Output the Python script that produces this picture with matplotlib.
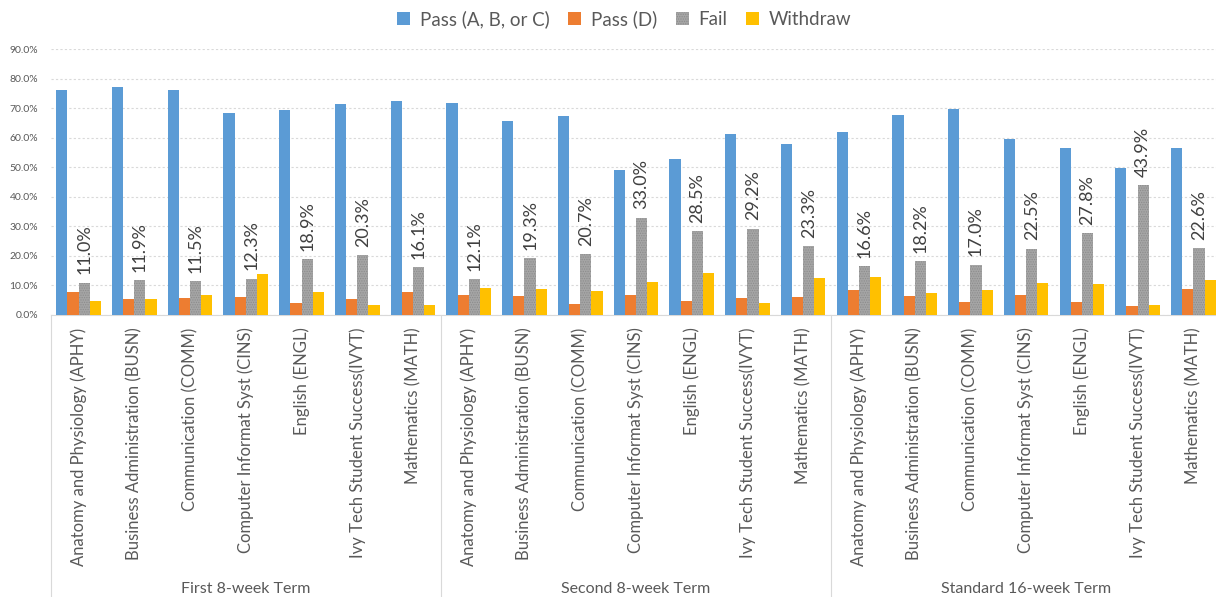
import numpy as np
import matplotlib
matplotlib.use("Agg")
import matplotlib.pyplot as plt
import matplotlib.transforms as mtransforms

plt.rcParams['font.family'] = ['Lato', 'DejaVu Sans']
plt.rcParams['hatch.linewidth'] = 0.6

# data (shares, in %)
courses = ["Anatomy and Physiology (APHY)", "Business Administration (BUSN)",
           "Communication (COMM)", "Computer Informat Syst (CINS)",
           "English (ENGL)", "Ivy Tech Student Success(IVYT)", "Mathematics (MATH)"]
terms = ["First 8-week Term", "Second 8-week Term", "Standard 16-week Term"]
series = ["Pass (A, B, or C)", "Pass (D)", "Fail", "Withdraw"]

pass_abc = [76.2, 77.3, 76.2, 68.3, 69.3, 71.5, 72.6,
            71.9, 65.8, 67.3, 49.1, 53.0, 61.3, 57.8,
            62.1, 67.6, 69.8, 59.7, 56.7, 49.9, 56.6]
pass_d = [7.7, 5.3, 5.6, 6.0, 4.0, 5.3, 7.7,
          6.9, 6.5, 3.7, 6.9, 4.6, 5.6, 6.1,
          8.5, 6.4, 4.5, 6.9, 4.5, 2.9, 8.7]
fail = [11.0, 11.9, 11.5, 12.3, 18.9, 20.3, 16.1,
        12.1, 19.3, 20.7, 33.0, 28.5, 29.2, 23.3,
        16.6, 18.2, 17.0, 22.5, 27.8, 43.9, 22.6]
withdraw = [4.7, 5.3, 6.7, 13.8, 7.7, 3.3, 3.5,
            9.1, 8.7, 8.0, 11.2, 14.3, 4.0, 12.5,
            12.8, 7.5, 8.5, 10.7, 10.5, 3.4, 11.9]

colors = ['#5b9bd5', '#ed7d31', '#a5a5a5', '#ffc000']
txt = '#595959'

labels = courses * len(terms)
n = len(labels)
x = np.arange(n)
w = 0.2

fig = plt.figure(figsize=(12.16, 5.97), dpi=100)
ax = fig.add_axes([0.0417, 0.4724, 0.9626, 0.445])

vals = [pass_abc, pass_d, fail, withdraw]
for i, (v, c, s) in enumerate(zip(vals, colors, series)):
    off = (i - 1.5) * w
    if s == "Fail":
        ax.bar(x + off, v, w, color=c, edgecolor='#8c8c8c', linewidth=0,
               hatch='.......', label=s, zorder=3)
    else:
        ax.bar(x + off, v, w, color=c, linewidth=0, label=s, zorder=3)

# labels on fail bars
for xi, v in zip(x, fail):
    ax.annotate(f"{v:.1f}%", (xi + 0.5 * w, v), xytext=(0, 6),
                textcoords='offset points', rotation=90, ha='center', va='bottom',
                fontsize=13, color='#404040')

ax.set_ylim(0, 90)
ax.set_xlim(-0.5, n - 0.5)
ax.set_yticks(np.arange(0, 91, 10))
ax.set_yticklabels([f"{t:.1f}%" for t in range(0, 91, 10)], fontsize=7.5, color=txt)
ax.yaxis.grid(True, linestyle=(0, (2, 2)), color='#d9d9d9', linewidth=0.8, zorder=0)
ax.tick_params(axis='y', length=0, pad=9)
ax.set_xticks(x)
ax.set_xticklabels(labels, rotation=90, fontsize=12, color=txt)
ax.tick_params(axis='x', length=0, pad=9)
for sp in ['top', 'right', 'left']:
    ax.spines[sp].set_visible(False)
ax.spines['bottom'].set_color('#d9d9d9')

# group separators and term labels
trans = mtransforms.blended_transform_factory(ax.transData, ax.transAxes)
k = len(courses)
for g in range(len(terms) + 1):
    xs = g * k - 0.5
    ax.plot([xs, xs], [0, -1.1], transform=trans, color='#d9d9d9',
            linewidth=0.8, clip_on=False)
for g, t in enumerate(terms):
    ax.text(g * k + (k - 1) / 2, -1.03, t, transform=trans, ha='center',
            va='center', fontsize=11.5, color=txt)

leg = ax.legend(loc='center', bbox_to_anchor=(0.49, 1.115), ncol=4, frameon=False,
                fontsize=13.5, handlelength=0.7, handleheight=0.7,
                handletextpad=0.5, columnspacing=1.0)
for t in leg.get_texts():
    t.set_color(txt)

fig.savefig("out.png", dpi=100)
